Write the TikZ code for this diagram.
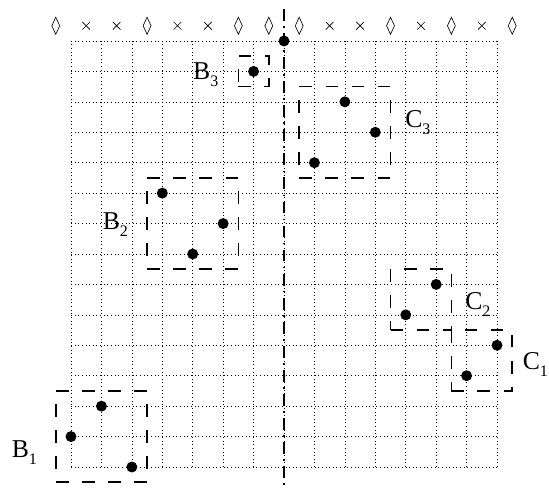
\documentclass[tikz,border=0pt]{standalone}
\usepackage{fontspec}
\setmainfont{Liberation Serif}
\newcommand\lab[2]{#1\raisebox{-6.5pt}{\fontsize{15}{15}\selectfont #2}}
\begin{document}
\begin{tikzpicture}[x=1cm,y=1cm,
  gridline/.style={line width=0.5pt,dash pattern=on 0.9pt off 2.5pt},
  boxnode/.style={draw,rectangle,line width=1.6pt,dash pattern=on 11.9pt off 12.5pt,inner sep=0pt,minimum width=#1 cm,minimum height=#1 cm},
  splitline/.style={line width=1.6pt,dash pattern=on 11pt off 5pt on 1.5pt off 5pt},
  dotnode/.style={circle,fill=black,inner sep=0pt,minimum size=0.36cm},
  marker/.style={line width=0.6pt},
  labelnode/.style={anchor=base west,inner sep=0pt,font=\fontsize{24}{26}\selectfont}]
\useasboundingbox (-2.333,-0.69) rectangle (15.708,15.347);
% grid
\foreach \i in {0,...,14} {
  \draw[gridline] (\i,0) -- (\i,14);
  \draw[gridline] (0,\i) -- (14,\i);
}
% top markers
\foreach \x in {-0.5,2.5,5.5,6.5,7.5,10.5,12.5,14.5}
  \draw[marker] (\x,14.5) +(0,0.28) -- +(0.13,0) -- +(0,-0.28) -- +(-0.13,0) -- cycle;
\foreach \x in {0.5,1.5,3.5,4.5,8.5,9.5,11.5,13.5}
  \draw[marker] (\x,14.5) +(-0.125,-0.125) -- +(0.125,0.125) +(-0.125,0.125) -- +(0.125,-0.125);
% boxes
\node[boxnode=3] (boxB1) at (1,1) {};
\node[boxnode=3] (boxB2) at (4,8) {};
\node[boxnode=1] (boxB3) at (6,13) {};
\node[boxnode=3] (boxC3) at (9,11) {};
\node[boxnode=2] (boxC2) at (11.5,5.5) {};
\node[boxnode=2] (boxC1) at (13.5,3.5) {};
% split line
\coordinate (lineTop) at (7,15.05);
\coordinate (lineBot) at (7,-0.69);
\draw[splitline] (lineTop) -- (lineBot);
% dots
\node[dotnode] (top) at (7,14) {};
\node[dotnode] (b3a) at (6,13) {};
\node[dotnode] (c3a) at (9,12) {};
\node[dotnode] (c3b) at (10,11) {};
\node[dotnode] (c3c) at (8,10) {};
\node[dotnode] (b2a) at (3,9) {};
\node[dotnode] (b2b) at (5,8) {};
\node[dotnode] (b2c) at (4,7) {};
\node[dotnode] (c2a) at (12,6) {};
\node[dotnode] (c2b) at (11,5) {};
\node[dotnode] (c1a) at (14,4) {};
\node[dotnode] (c1b) at (13,3) {};
\node[dotnode] (b1a) at (1,2) {};
\node[dotnode] (b1b) at (0,1) {};
\node[dotnode] (b1c) at (2,0) {};
% labels
\node[labelnode] (lB3) at (4.01,12.72) {\lab{B}{3}};
\node[labelnode] (lB2) at (1.04,7.79) {\lab{B}{2}};
\node[labelnode] (lB1) at (-1.95,0.30) {\lab{B}{1}};
\node[labelnode] (lC3) at (10.98,11.17) {\lab{C}{3}};
\node[labelnode] (lC2) at (12.95,5.16) {\lab{C}{2}};
\node[labelnode] (lC1) at (14.84,3.19) {\lab{C}{1}};
\end{tikzpicture}
\end{document}
